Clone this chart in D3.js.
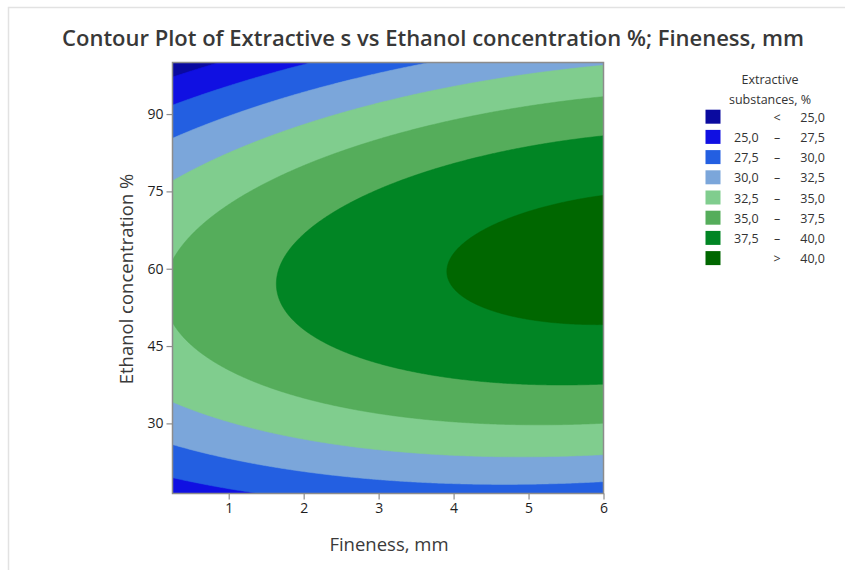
<!DOCTYPE html>
<html>
<head>
<meta charset="utf-8">
<script src="https://cdn.jsdelivr.net/npm/d3@7"></script>
<style>
  html, body { margin: 0; padding: 0; background: #fff; }
  svg { display: block; font-family: "Open Sans", "Noto Sans", sans-serif; }
</style>
</head>
<body>
<svg id="chart" width="845" height="570"></svg>
<script>
// Fitted response surface: Extractive substances (%) vs Fineness (mm) and Ethanol concentration (%)
const modelTerms = ["Constant", "Fineness", "Ethanol", "Fineness*Fineness", "Ethanol*Ethanol", "Fineness*Ethanol"];
const modelCoefs = [16.647, 1.237, 0.65406, -0.15665, -0.00591, 0.012541];

// Axis ranges and ticks
const finenessRange = [0.25, 6];
const ethanolRange = [16.4, 100];
const finenessTicks = [1, 2, 3, 4, 5, 6];
const ethanolTicks = [30, 45, 60, 75, 90];

// Contour levels and band colours
const levels = [25, 27.5, 30, 32.5, 35, 37.5, 40];
const bandColors = ["#0a0a9f", "#1010e2", "#235fe1", "#7ba6da", "#80cd8e", "#55ad5b", "#018524", "#006700"];
const bandLabels = [["", "<", "25,0"], ["25,0", "–", "27,5"], ["27,5", "–", "30,0"], ["30,0", "–", "32,5"],
                    ["32,5", "–", "35,0"], ["35,0", "–", "37,5"], ["37,5", "–", "40,0"], ["", ">", "40,0"]];

const svg = d3.select("#chart");
const plot = { left: 172.5, top: 62.5, right: 603.5, bottom: 493.5 };
const W = plot.right - plot.left, H = plot.bottom - plot.top;

const x = d3.scaleLinear().domain(finenessRange).range([plot.left, plot.right]);
const y = d3.scaleLinear().domain(ethanolRange).range([plot.bottom, plot.top]);

function surface(f, e) {
  const c = modelCoefs;
  return c[0] + c[1] * f + c[2] * e + c[3] * f * f + c[4] * e * e + c[5] * f * e;
}

// Frame lines of the graph window
svg.append("path")
  .attr("d", "M8.5,570 V7.5 H845")
  .attr("fill", "none").attr("stroke", "#e2e2e2").attr("stroke-width", 1.5);

// Sample the surface on a grid covering the plot area
const n = Math.round(W), m = Math.round(H);
const values = new Array(n * m);
for (let j = 0; j < m; j++) {
  const e = y.invert(plot.top + (j + 0.5) * H / m);
  for (let i = 0; i < n; i++) {
    const f = x.invert(plot.left + (i + 0.5) * W / n);
    values[i + j * n] = surface(f, e);
  }
}

const thresholds = [d3.min(values) - 1].concat(levels);
const contours = d3.contours().size([n, m]).thresholds(thresholds)(values);

const toPixels = d3.geoTransform({
  point(px, py) { this.stream.point(plot.left + px * W / n, plot.top + py * H / m); }
});
const path = d3.geoPath(toPixels);

svg.append("clipPath").attr("id", "plotClip")
  .append("rect").attr("x", plot.left).attr("y", plot.top).attr("width", W).attr("height", H);

svg.append("g").attr("clip-path", "url(#plotClip)")
  .selectAll("path")
  .data(contours)
  .join("path")
  .attr("d", path)
  .attr("fill", (d, i) => bandColors[i])
  .attr("stroke", (d, i) => bandColors[i])
  .attr("stroke-width", 0.5);

// Plot border
svg.append("rect")
  .attr("x", plot.left).attr("y", plot.top).attr("width", W).attr("height", H)
  .attr("fill", "none").attr("stroke", "#8c8c8c").attr("stroke-width", 1.5);

// Axes
const xAxis = svg.append("g").attr("transform", `translate(0,${plot.bottom})`)
  .call(d3.axisBottom(x).tickValues(finenessTicks).tickFormat(d3.format("d")).tickSize(6).tickSizeOuter(0).tickPadding(4));
const yAxis = svg.append("g").attr("transform", `translate(${plot.left},0)`)
  .call(d3.axisLeft(y).tickValues(ethanolTicks).tickFormat(d3.format("d")).tickSize(6).tickSizeOuter(0).tickPadding(3));
[xAxis, yAxis].forEach(a => {
  a.select(".domain").remove();
  a.selectAll(".tick line").attr("stroke", "#8c8c8c").attr("stroke-width", 1.2);
  a.selectAll(".tick text").attr("fill", "#1e1e1e").style("font-size", "14px").style("font-family", "'Open Sans', sans-serif");
});

// Titles
svg.append("text")
  .attr("x", 433).attr("y", 46).attr("text-anchor", "middle")
  .attr("fill", "#383838").style("font-size", "22px").style("font-weight", 600)
  .text("Contour Plot of Extractive s vs Ethanol concentration %; Fineness, mm");

svg.append("text")
  .attr("x", 389).attr("y", 551).attr("text-anchor", "middle")
  .attr("fill", "#3a3a3a").style("font-size", "18.5px")
  .text("Fineness, mm");

svg.append("text")
  .attr("transform", "translate(133,279) rotate(-90)").attr("text-anchor", "middle")
  .attr("fill", "#3a3a3a").style("font-size", "18.5px")
  .text("Ethanol concentration %");

// Legend
const legend = svg.append("g");
legend.append("text").attr("x", 770).attr("y", 84).attr("text-anchor", "middle")
  .attr("fill", "#333").style("font-size", "12.5px").text("Extractive");
legend.append("text").attr("x", 770).attr("y", 104).attr("text-anchor", "middle")
  .attr("fill", "#333").style("font-size", "12.5px").text("substances, %");

const rows = legend.selectAll("g.row").data(bandColors).join("g")
  .attr("class", "row")
  .attr("transform", (d, i) => `translate(0,${116.7 + i * 20.2})`);
rows.append("rect").attr("x", 705.5).attr("y", -7).attr("width", 15).attr("height", 14)
  .attr("fill", d => d);
rows.append("text").attr("x", 734).attr("y", 5).attr("fill", "#333").style("font-size", "12.5px")
  .text((d, i) => bandLabels[i][0]);
rows.append("text").attr("x", 777).attr("y", 5).attr("text-anchor", "middle").attr("fill", "#333").style("font-size", "12.5px")
  .text((d, i) => bandLabels[i][1]);
rows.append("text").attr("x", 825).attr("y", 5).attr("text-anchor", "end").attr("fill", "#333").style("font-size", "12.5px")
  .text((d, i) => bandLabels[i][2]);
</script>
</body>
</html>
